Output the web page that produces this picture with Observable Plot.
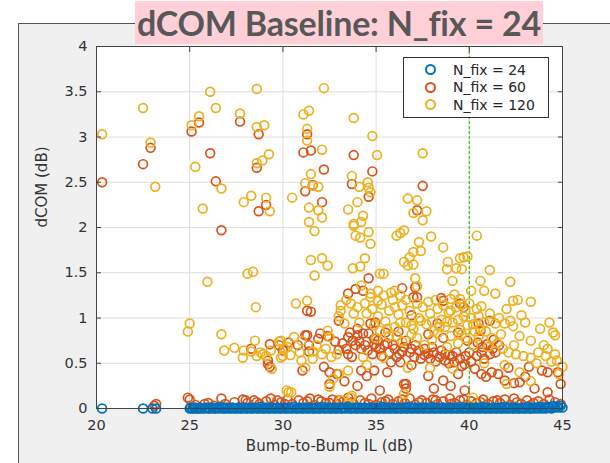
<!DOCTYPE html>
<html>
<head>
<meta charset="utf-8">
<script src="https://cdn.jsdelivr.net/npm/d3@7"></script>
<script src="https://cdn.jsdelivr.net/npm/@observablehq/plot@0.6"></script>
<style>
  body { margin:0; width:610px; height:463px; position:relative; overflow:hidden; background:#fff; font-family:"DejaVu Sans",sans-serif; }
  #panel { position:absolute; left:18px; top:23px; width:592px; height:440px; background:#f0f0f0; border-top:1px solid #555; border-left:1px solid #555; }
  #chart { position:absolute; left:0; top:0; }
  #title { position:absolute; left:135px; top:1px; width:408px; height:43px; background:#ffd0d8; color:#585858; font-family:Lato,sans-serif; font-weight:700; font-size:34px; line-height:43px; text-align:center; white-space:nowrap; letter-spacing:-0.2px; }
  #legend { position:absolute; left:403px; top:57px; width:146px; height:61px; background:#fff; border:1px solid #333; box-sizing:border-box; font-size:14px; color:#262626; padding-top:3px; }
  .row { height:17.5px; display:flex; align-items:center; }
  .mk { width:7px; height:7px; border-radius:50%; border:2px solid; margin-left:21px; margin-right:17px; }
</style>
</head>
<body>
<div id="panel"></div>
<div id="chart"></div>
<div id="title">dCOM Baseline: N_fix = 24</div>
<div id="legend"></div>
<script>
const seriesNames = ["N_fix = 24", "N_fix = 60", "N_fix = 120"];
const seriesColors = ["#0072BD", "#D95319", "#EDB120"];
const xTicks = [20, 25, 30, 35, 40, 45];
const yTicks = [0, 0.5, 1, 1.5, 2, 2.5, 3, 3.5, 4];
const threshold = 40;

const points24 = [
  [20.3,0],[22.5,0],[23.0,0],[23.2,0],
  [25.0,0],[25.05,0.01],[25.15,0],[25.25,0],[25.3,0.01],[25.4,0],[25.5,0],[25.55,0.01],[25.65,0],[25.8,0],
  [25.9,0.01],[26.0,0],[26.1,0],[26.2,0.01],[26.3,0],[26.4,0],[26.5,0.01],[26.6,0],[26.7,0.02],[26.8,0],
  [26.9,0],[27.0,0.01],[27.1,0],[27.2,0],[27.3,0.01],[27.4,0],[27.5,0],[27.6,0.01],[27.7,0],[27.8,0],
  [27.9,0.01],[28.0,0],[28.1,0],[28.2,0.01],[28.3,0],[28.4,0],[28.5,0.01],[28.6,0],[28.7,0],[28.8,0.02],
  [28.9,0],[29.0,0],[29.1,0.01],[29.2,0],[29.3,0],[29.4,0.01],[29.5,0],[29.6,0],[29.7,0.01],[29.8,0],
  [29.9,0],[30.0,0.01],[30.1,0],[30.2,0],[30.3,0.01],[30.4,0],[30.5,0],[30.6,0.02],[30.7,0],[30.8,0],
  [30.9,0.01],[31.0,0],[31.1,0],[31.2,0.01],[31.3,0],[31.4,0],[31.5,0.01],[31.6,0],[31.7,0],[31.8,0.01],
  [31.9,0],[32.0,0],[32.1,0.02],[32.2,0],[32.3,0],[32.4,0.01],[32.5,0],[32.6,0],[32.7,0.01],[32.8,0],
  [32.9,0],[33.0,0.01],[33.1,0],[33.2,0],[33.3,0.01],[33.4,0],[33.5,0.02],[33.6,0],[33.7,0],[33.8,0.01],
  [33.9,0],[34.0,0],[34.1,0.01],[34.2,0],[34.3,0],[34.4,0.01],[34.5,0],[34.6,0],[34.7,0.01],[34.8,0],
  [34.9,0],[35.0,0.01],[35.1,0],[35.2,0],[35.3,0.02],[35.4,0],[35.5,0],[35.6,0.01],[35.7,0],[35.8,0],
  [35.9,0.01],[36.0,0],[36.1,0],[36.2,0.01],[36.3,0],[36.4,0],[36.5,0.01],[36.6,0],[36.7,0],[36.8,0.02],
  [36.9,0],[37.0,0],[37.1,0.01],[37.2,0],[37.3,0],[37.4,0.01],[37.5,0],[37.6,0],[37.7,0.01],[37.8,0],
  [37.9,0],[38.0,0.02],[38.1,0],[38.2,0],[38.3,0.01],[38.4,0],[38.5,0],[38.6,0.01],[38.7,0],[38.8,0],
  [38.9,0.01],[39.0,0],[39.1,0],[39.2,0.01],[39.3,0],[39.4,0],[39.5,0.02],[39.6,0],[39.7,0],[39.8,0.01],
  [39.9,0],[40.0,0],[40.1,0.01],[40.2,0],[40.3,0],[40.4,0.01],[40.5,0],[40.6,0],[40.7,0.02],[40.8,0],
  [40.9,0],[41.0,0.01],[41.1,0],[41.2,0],[41.3,0.01],[41.4,0],[41.5,0],[41.6,0.01],[41.7,0],[41.8,0],
  [41.9,0.02],[42.0,0],[42.1,0],[42.2,0.01],[42.3,0],[42.4,0],[42.5,0.01],[42.6,0],[42.7,0],[42.8,0.01],
  [42.9,0],[43.0,0],[43.1,0.02],[43.2,0],[43.3,0],[43.4,0.01],[43.5,0],[43.6,0.01],[43.7,0],[43.8,0.02],
  [43.9,0],[44.0,0.01],[44.1,0],[44.2,0.02],[44.3,0.01],[44.4,0],[44.5,0.03],[44.6,0.01],[44.7,0.02],[44.8,0.01],
  [44.9,0.03],[45.0,0.01]
];

const points60 = [
  // upper scatter
  [20.3,2.50],[22.5,2.70],[22.9,2.88],[25.1,3.06],[25.5,3.16],[26.1,2.82],[26.4,2.51],[26.7,1.97],[27.7,3.17],[28.7,3.03],
  [28.6,2.66],[29.1,2.25],[28.7,2.18],[31.3,3.03],[31.1,2.83],[31.5,2.85],[31.2,2.40],[31.6,2.47],[33.8,2.80],[32.2,2.64],
  [34.8,2.62],[33.7,2.48],[34.6,2.34],[37.5,2.46],[32.1,2.28],[37.2,2.19],[34.6,1.44],[33.5,1.27],[33.9,1.32],[34.3,1.30],
  [36.4,1.33],[37.1,1.34],[38.5,1.22],[40.5,0.94],[41.1,0.97],[37.0,1.23],[37.2,1.23],[38.6,1.19],[31.5,1.07],[31.3,1.08],
  [39.5,1.16],[39.7,1.12],[34.7,0.94],[34.95,0.95],[36.9,1.03],[38.3,0.94],[33.0,0.97],
  // middle band
  [28.3,0.66],[29.3,0.71],[29.8,0.70],[29.2,0.49],[29.3,0.46],[29.2,0.53],[30.8,0.70],[31.05,0.42],[31.2,0.81],[31.4,0.70],
  [31.4,0.63],[31.3,0.81],[31.9,0.77],[33.5,0.79],[33.75,0.75],[34.0,0.81],[34.3,0.83],[34.6,0.83],[34.9,0.77],[33.9,0.70],
  [34.2,0.66],[33.5,0.60],[33.7,0.57],[34.55,0.64],[35.0,0.68],[32.2,0.46],[32.5,0.40],[32.9,0.38],[32.5,0.27],[34.2,0.42],
  [34.5,0.36],[34.9,0.71],[35.2,0.66],[35.45,0.70],[35.7,0.62],[36.0,0.66],[36.25,0.60],[36.5,0.68],[36.8,0.62],[37.05,0.57],
  [37.3,0.64],[37.6,0.59],[37.9,0.55],[38.1,0.62],[38.4,0.57],[38.7,0.53],[38.95,0.59],[39.2,0.51],[39.5,0.55],[39.75,0.49],
  [35.8,0.51],[36.3,0.51],[36.9,0.48],[34.9,0.42],[39.4,0.38],[39.9,0.75],[40.2,0.70],[40.45,0.73],[40.7,0.68],[40.95,0.71],
  [41.25,0.66],[40.65,0.62],[41.1,0.60],[40.0,0.62],
  [33.2,0.72],[33.4,0.66],[33.6,0.84],[34.1,0.74],[34.4,0.70],[34.8,0.60],[35.1,0.75],[35.3,0.58],[35.6,0.72],[35.9,0.70],
  [36.1,0.57],[36.4,0.63],[36.6,0.75],[36.9,0.66],[37.1,0.70],[37.4,0.55],[37.6,0.66],[37.8,0.61],[38.0,0.68],[38.2,0.52],
  [38.5,0.64],[38.7,0.60],[38.9,0.50],[39.1,0.58],[39.3,0.62],[39.6,0.47],[39.8,0.58],[40.1,0.52],[40.4,0.58],[40.8,0.55],
  [41.4,0.62],[41.6,0.70],[33.0,0.65],[32.8,0.74],[32.4,0.80],[32.0,0.83],[30.3,0.73],[30.0,0.64],[35.5,0.84],[34.0,0.88],
  [36.2,0.85],[37.8,0.82],[38.6,0.78],[39.4,0.84],[40.6,0.86],[41.3,0.76],
  [33.3,0.30],[35.6,0.40],[37.8,0.36],[38.6,0.31],[39.0,0.25],[41.2,0.40],[42.1,0.45],[43.0,0.35],[35.2,0.20],[34.0,0.25],
  // lower right
  [44.2,0.40],[43.9,0.42],[43.2,0.46],[41.55,0.38],[41.9,0.31],[42.4,0.28],[42.7,0.29],[43.5,0.22],[44.2,0.18],[44.9,0.27],
  [40.3,0.44],[40.65,0.38],[40.9,0.35],[39.75,0.20],[38.1,0.22],[36.6,0.27],[36.6,0.22],[36.5,0.27],[44.75,0.40],
  // near zero
  [23.1,0.03],[23.2,0.05],[24.9,0.12],[25.0,0.10],[25.3,0.04],[25.8,0.05],[26.0,0.06],[26.3,0.03],[26.7,0.11],[26.9,0.05],
  [27.4,0.07],[27.85,0.10],[28.1,0.06],[28.45,0.09],[28.75,0.05],[29.1,0.08],[29.35,0.11],[29.55,0.04],[29.9,0.07],[30.25,0.10],
  [30.5,0.05],[30.85,0.09],[31.1,0.06],[31.45,0.11],[31.7,0.04],[32.05,0.08],[32.3,0.06],[32.65,0.10],[32.9,0.05],[33.25,0.08],
  [33.5,0.12],[33.8,0.05],[34.15,0.09],[34.4,0.06],[34.75,0.11],[35.0,0.04],[35.3,0.07],[35.65,0.10],[35.9,0.05],[36.2,0.08],
  [36.55,0.06],[36.8,0.11],[37.1,0.04],[37.45,0.09],[37.7,0.06],[38.05,0.10],[38.3,0.05],[38.6,0.08],[38.95,0.11],[39.2,0.06],
  [39.5,0.09],[39.85,0.04],[40.1,0.08],[40.4,0.06],[40.75,0.10],[41.0,0.05],[41.3,0.08],[41.65,0.06],[41.9,0.10],[42.2,0.04],
  [42.55,0.07],[42.8,0.05],[43.1,0.09],[43.45,0.06],[43.7,0.08],[44.0,0.05],[44.3,0.10],[44.6,0.07],[44.9,0.05],
  [28.0,0.09],[28.6,0.07],[29.7,0.09],[30.1,0.05],[31.3,0.08],[31.9,0.10],[32.5,0.06],[33.0,0.09],[33.7,0.07],[34.6,0.05],
  [35.5,0.08],[36.4,0.10],[37.3,0.07],[38.2,0.09],[39.0,0.05],[39.7,0.10],[40.6,0.07],[41.5,0.09],[42.4,0.11],[43.3,0.04]
];

const points120 = [
  // upper scatter
  [20.3,3.03],[22.5,3.32],[22.9,2.94],[23.15,2.45],[25.1,3.13],[25.5,3.23],[26.1,3.50],[26.4,3.32],[25.3,2.67],[26.7,2.43],
  [25.7,2.21],[27.7,3.26],[28.6,3.53],[28.6,3.11],[29.0,3.13],[29.25,2.81],[28.6,2.71],[28.9,2.74],[28.3,2.35],[27.9,2.28],
  [29.1,2.33],[29.3,2.18],[30.5,2.33],[31.1,3.25],[31.4,3.29],[31.3,3.09],[31.3,2.96],[31.5,2.59],[31.2,2.49],[31.6,2.46],
  [31.4,2.22],[31.4,2.06],[32.2,3.54],[33.8,3.21],[32.1,2.86],[34.8,3.01],[35.05,2.80],[37.5,2.82],[33.7,2.57],[31.9,2.45],
  [34.1,2.45],[34.55,2.50],[34.7,2.39],[34.6,2.44],[31.9,2.19],[32.1,2.11],[33.5,2.20],[34.0,2.28],[34.3,2.13],[34.2,2.06],
  [33.8,2.04],[36.7,2.32],[37.2,2.30],[37.0,2.16],[37.7,2.18],[37.5,2.08],[31.7,1.96],[33.8,2.02],[34.6,1.95],[33.9,1.91],
  [34.15,1.89],[34.7,1.82],[31.5,1.64],[32.1,1.66],[32.4,1.58],[31.7,1.47],[33.75,1.55],[34.15,1.57],[34.4,1.66],[35.2,1.49],
  [36.1,1.91],[36.3,1.94],[36.5,1.97],[37.95,1.90],[37.3,1.84],[37.4,1.74],[38.6,1.78],[37.0,1.73],[36.8,1.67],[36.5,1.62],
  [36.7,1.58],[37.0,1.59],[38.85,1.62],[38.8,1.54],[39.3,1.55],[39.5,1.66],[39.7,1.67],[39.9,1.68],[39.6,1.54],[39.1,1.41],
  [35.4,1.49],[37.1,1.44],[37.2,1.35],[39.0,1.21],[39.5,1.21],[40.4,1.91],[41.1,1.53],[42.2,1.40],[40.6,1.41],[40.8,1.30],
  [40.1,1.30],[41.4,1.27],[42.35,1.19],[42.6,1.20],[42.8,1.03],[43.3,1.18],[40.4,1.10],[40.65,1.13],[41.4,0.94],[41.9,0.94],
  [42.2,0.97],[42.35,0.91],[44.5,0.84],[44.6,0.81],[43.3,0.75],[44.0,0.70],[44.2,0.66],[44.6,0.60],[44.7,0.53],[45.0,0.46],
  [44.8,0.38],[42.0,0.27],[40.2,0.12],[36.5,0.16],[33.7,0.14],[33.1,0.09],[34.2,1.36],[34.7,1.27],[35.1,1.30],[36.0,1.30],
  [35.8,1.28],[36.3,1.25],
  // left lower
  [25.95,1.40],[28.55,1.12],[25.0,0.94],[24.9,0.85],[26.7,0.82],[26.85,0.64],[27.4,0.67],[27.9,0.64],[27.85,0.56],[28.3,0.63],
  [28.5,0.75],[28.8,0.62],[28.9,0.60],[29.35,0.64],[29.8,0.74],[29.9,0.56],[30.25,0.68],[29.4,0.44],[30.3,0.18],[28.1,1.49],
  [28.4,1.51],[30.7,1.16],[31.3,1.19],
  // middle
  [33.1,1.14],[33.1,1.08],[33.65,1.16],[34.0,1.12],[34.4,1.16],[34.7,1.23],[35.1,1.19],[33.3,0.94],[32.4,0.86],[32.5,0.79],
  [29.9,0.75],[30.1,0.66],[30.4,0.59],[31.0,0.53],[31.6,0.55],[32.1,0.60],[32.6,0.57],[30.6,0.79],[31.0,0.75],[33.0,0.38],
  [32.7,0.33],[32.5,0.24],[33.65,0.12],[30.2,0.20],[30.45,0.18],
  // dense cluster
  [34.8,1.10],[35.1,1.02],[35.3,1.15],[35.5,0.96],[35.7,1.08],[35.9,1.20],[36.0,0.90],[36.2,1.04],[36.4,1.14],[36.6,0.95],
  [36.8,1.08],[37.0,0.88],[37.3,1.00],[37.5,1.12],[37.7,0.93],[37.9,1.05],[38.1,0.86],[38.3,1.10],[38.5,0.98],[38.7,0.90],
  [38.9,1.06],[39.1,0.95],[39.3,1.12],[39.5,0.87],[39.7,1.02],[39.9,0.92],[40.1,1.00],[40.3,0.85],[35.2,0.86],[36.1,0.80],
  [37.2,0.78],[38.0,0.76],[39.0,0.80],[39.8,0.78],[40.2,0.70],[40.5,0.80],[35.0,0.78],[36.4,0.74],[37.6,0.70],[38.8,0.68],
  [39.4,0.72],
  [33.0,1.02],[33.4,1.20],[33.8,1.05],[34.1,0.95],[34.5,1.05],[34.9,0.92],[35.4,1.25],[35.6,0.88],[36.0,1.12],[36.3,0.95],
  [36.6,1.20],[36.9,0.92],[37.2,1.16],[37.4,0.97],[37.8,1.18],[38.0,0.96],[38.2,1.20],[38.4,0.90],[38.6,1.14],[38.8,0.96],
  [39.0,1.08],[39.2,1.26],[39.4,0.98],[39.6,1.15],[39.8,1.07],[40.0,1.16],[40.2,0.93],[40.5,1.02],[40.8,0.95],[41.1,1.05],
  [41.6,1.00],[42.0,1.10],[42.7,0.80],[43.0,0.95],[43.8,0.88],[44.3,0.95],
  [33.5,0.42],[34.5,0.48],[35.4,0.56],[36.7,0.45],[37.9,0.45],[39.1,0.44],[40.8,0.50],[41.9,0.48],[42.7,0.40],[43.3,0.30],
  [31.2,0.45],[31.8,0.70],[32.3,0.66],[32.9,0.60],[30.9,0.62],[31.6,0.63],[34.3,0.57],[35.7,0.80],[36.9,0.82],[38.3,0.83],
  [39.6,0.82],[30.0,0.58],[29.1,0.58],[28.6,0.58],
  // right cluster
  [40.9,0.85],[41.2,0.78],[41.5,0.72],[41.8,0.66],[42.1,0.62],[42.5,0.60],[42.9,0.58],[43.3,0.56],[43.7,0.62],[44.1,0.58],
  [40.6,0.88],[41.0,0.68],[41.7,0.82],[42.4,0.70],[43.6,0.50],[44.4,0.52]
];

const toRows = (pts, s) => pts.map(([x, y]) => ({x, y, s}));
const rows24 = toRows(points24, seriesNames[0]);
const rows60 = toRows(points60, seriesNames[1]);
const rows120 = toRows(points120, seriesNames[2]);

const dotOpts = (color) => ({x:"x", y:"y", r:4.4, fill:"none", stroke:color, strokeWidth:1.7});

const chart = Plot.plot({
  width: 610,
  height: 463,
  marginLeft: 96,
  marginRight: 48,
  marginTop: 46,
  marginBottom: 55,
  style: {background:"transparent", fontFamily:"DejaVu Sans, sans-serif", fontSize:"14px", color:"#333"},
  x: {domain:[20, 45], label:null},
  y: {domain:[0, 4], label:null},
  marks: [
    Plot.frame({fill:"white", stroke:"none"}),
    Plot.gridX(xTicks, {stroke:"#dedede", strokeOpacity:1}),
    Plot.gridY(yTicks, {stroke:"#dedede", strokeOpacity:1}),
    Plot.ruleX([threshold], {stroke:"#3cc800", strokeWidth:1.2, strokeDasharray:"3,2"}),
    Plot.dot(rows60, dotOpts(seriesColors[1])),
    Plot.dot(rows120, dotOpts(seriesColors[2])),
    Plot.dot(rows24, dotOpts(seriesColors[0])),
    Plot.frame({stroke:"#444", strokeWidth:1}),
    Plot.axisX(xTicks, {anchor:"bottom", tickSize:0, tickPadding:11, fill:"#333", fontSize:14.5}),
    Plot.axisY(yTicks, {anchor:"left", tickSize:0, tickPadding:9, fill:"#333", fontSize:14.5, tickFormat:(d) => String(d)}),
    Plot.axisX(xTicks, {anchor:"bottom", tickSize:-5, tickFormat:() => "", stroke:"#444"}),
    Plot.axisX(xTicks, {anchor:"top", tickSize:-5, tickFormat:() => "", stroke:"#444"}),
    Plot.axisY(yTicks, {anchor:"left", tickSize:-5, tickFormat:() => "", stroke:"#444"}),
    Plot.axisY(yTicks, {anchor:"right", tickSize:-5, tickFormat:() => "", stroke:"#444"}),
    Plot.text(["Bump-to-Bump IL (dB)"], {frameAnchor:"bottom", dy:42, fill:"#333", fontSize:15}),
    Plot.text(["dCOM (dB)"], {frameAnchor:"left", dx:-54, rotate:-90, fill:"#333", fontSize:15})
  ]
});
document.getElementById("chart").appendChild(chart);

const legend = document.getElementById("legend");
seriesNames.forEach((name, i) => {
  const row = document.createElement("div");
  row.className = "row";
  const mk = document.createElement("span");
  mk.className = "mk";
  mk.style.borderColor = seriesColors[i];
  const t = document.createElement("span");
  t.textContent = name;
  row.appendChild(mk);
  row.appendChild(t);
  legend.appendChild(row);
});
</script>
</body>
</html>
